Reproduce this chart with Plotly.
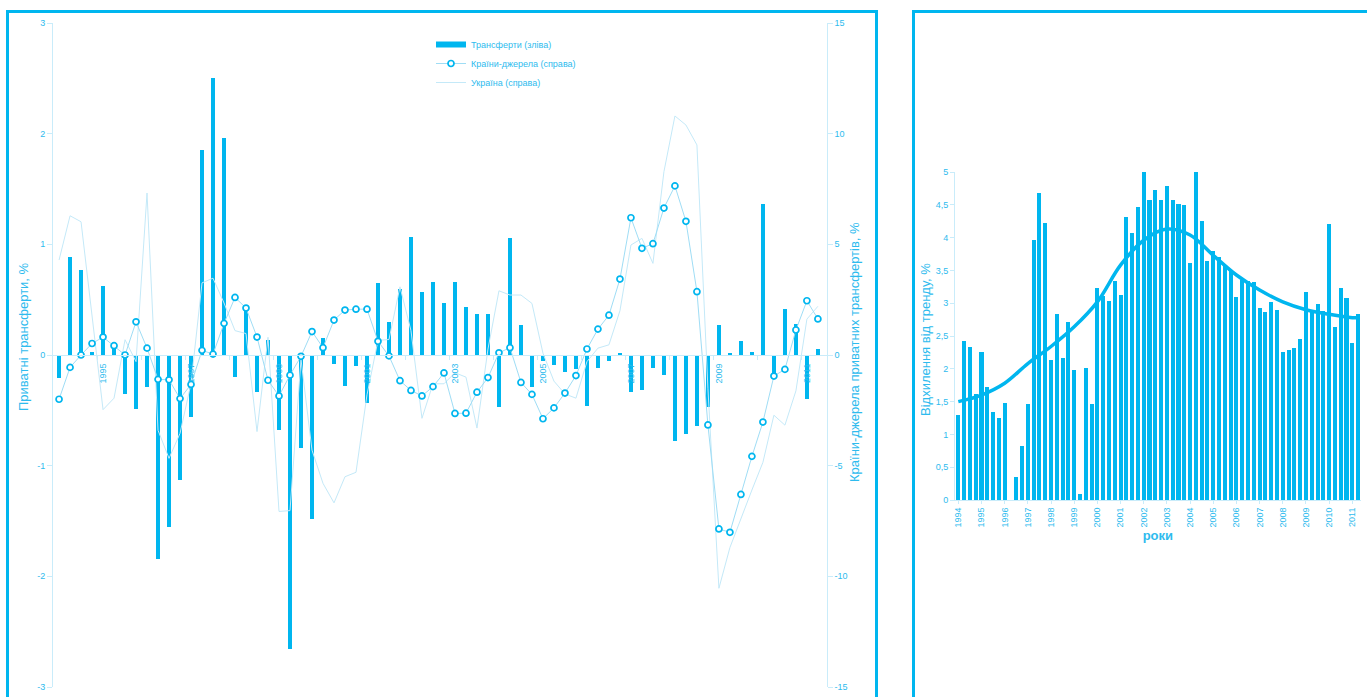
import plotly.graph_objects as go

# ---------------- data ----------------
years = list(range(1994, 2012))
quarters = [f"{y}Q{q}" for y in years for q in range(1, 5)][:70]  # 1994Q1 .. 2011Q2

# left panel
transfers = [-0.21, 0.89, 0.77, 0.03, 0.62, 0.085, -0.35, -0.49, -0.29, -1.84,
             -1.55, -1.13, -0.56, 1.85, 2.50, 1.965, -0.20, 0.43, -0.33, 0.14,
             -0.68, -2.66, -0.84, -1.48, 0.155, -0.085, -0.28, -0.10, -0.43, 0.65,
             0.30, 0.60, 1.07, 0.57, 0.66, 0.47, 0.66, 0.43, 0.37, 0.375,
             -0.47, 1.06, 0.27, -0.29, -0.05, -0.087, -0.15, -0.13, -0.46, -0.12,
             -0.05, 0.02, -0.33, -0.32, -0.114, -0.18, -0.78, -0.71, -0.64, -0.47,
             0.27, 0.02, 0.126, 0.03, 1.36, -0.21, 0.415, 0.28, -0.40, 0.054]

source_countries = [-2.0, -0.56, 0.0, 0.52, 0.81, 0.42, 0.0, 1.5, 0.31, -1.1,
                    -1.12, -1.97, -1.33, 0.21, 0.04, 1.43, 2.6, 2.12, 0.81, -1.14,
                    -1.85, -0.91, -0.06, 1.06, 0.33, 1.58, 2.03, 2.07, 2.07, 0.62,
                    -0.04, -1.16, -1.6, -1.85, -1.43, -0.81, -2.64, -2.63, -1.68, -1.02,
                    0.1, 0.33, -1.24, -1.78, -2.88, -2.39, -1.72, -0.93, 0.27, 1.17,
                    1.8, 3.43, 6.2, 4.82, 5.03, 6.64, 7.64, 6.04, 2.86, -3.16,
                    -7.86, -8.01, -6.3, -4.58, -3.03, -0.95, -0.65, 1.13, 2.45, 1.63]

ukraine = [4.29, 6.29, 6.02, 1.8, -2.47, -1.95, 0.69, -0.3, 7.32, -3.4,
           -4.67, -3.54, -1.28, 3.26, 3.47, 2.35, 1.1, 0.97, -3.46, 0.8,
           -7.07, -7.03, -0.2, -4.3, -5.8, -6.68, -5.5, -5.3, -1.8, 0.66,
           0.7, 3.08, 1.1, -2.86, -1.3, -1.3, -0.8, -1.0, -3.3, 0.27,
           2.9, 2.71, 2.71, 2.33, 0.08, -1.18, -1.76, -1.95, -0.3, 0.31,
           0.46, 2.0, 4.97, 5.27, 4.14, 8.28, 10.8, 10.39, 9.49, -1.5,
           -10.54, -8.7, -7.36, -6.1, -4.85, -2.72, -3.17, -1.62, 1.62, 2.2]

# right panel
deviation = [1.29, 2.42, 2.33, 1.61, 2.25, 1.72, 1.34, 1.245, 1.48, 0.0,
             0.345, 0.83, 1.46, 3.96, 4.68, 4.22, 2.13, 2.84, 2.16, 2.71,
             1.98, 0.09, 2.01, 1.46, 3.23, 3.11, 3.04, 3.34, 3.12, 4.31,
             4.07, 4.46, 5.02, 4.58, 4.73, 4.57, 4.79, 4.57, 4.51, 4.49,
             3.61, 5.05, 4.26, 3.65, 3.80, 3.70, 3.57, 3.51, 3.10, 3.36,
             3.34, 3.32, 2.93, 2.87, 3.02, 2.89, 2.25, 2.28, 2.31, 2.45,
             3.17, 2.90, 2.99, 2.88, 4.20, 2.64, 3.23, 3.08, 2.40, 2.84]

trend_quarters = ["1994Q1", "1995Q1", "1996Q1", "1997Q1", "1998Q1", "1999Q1",
                  "2000Q1", "2001Q1", "2002Q1", "2003Q1", "2004Q1", "2005Q1",
                  "2006Q1", "2007Q1", "2008Q1", "2009Q1", "2010Q1", "2011Q1", "2011Q2"]
trend = [1.50, 1.60, 1.78, 2.08, 2.34, 2.64, 3.02, 3.58, 3.96, 4.13,
         4.04, 3.73, 3.43, 3.20, 3.02, 2.90, 2.83, 2.78, 2.78]

left_tick_years = years[1:]  # year boundaries 1994/95 .. 2010/11
left_y_ticks = [-3, -2, -1, 0, 1, 2, 3]
right_y_ticks = [-15, -10, -5, 0, 5, 10, 15]

# ---------------- style ----------------
CYAN = "#00B6EF"
TXT = "#2EBBEE"
AXIS = "#C9ECFA"
THIN = "#C4E9F8"
MLINE = "#9FDDF5"
FONT = "Liberation Sans, Arial, sans-serif"

W, H = 1367, 697

idx = list(range(len(quarters)))
pos = {q: i for i, q in enumerate(quarters)}
trend_x = [pos[q] for q in trend_quarters]

fig = go.Figure()

# left panel traces
fig.add_trace(go.Bar(x=idx, y=transfers, width=0.43, marker=dict(color=CYAN, line=dict(width=0)),
                     xaxis="x", yaxis="y", showlegend=False, name="Трансферти (зліва)"))
fig.add_trace(go.Scatter(x=idx, y=ukraine, mode="lines", line=dict(color=THIN, width=1),
                         xaxis="x", yaxis="y2", name="Україна (справа)", legendrank=3))
fig.add_trace(go.Scatter(x=idx, y=source_countries, mode="lines+markers",
                         line=dict(color=MLINE, width=1),
                         marker=dict(symbol="circle", size=6, color="white",
                                     line=dict(color=CYAN, width=1.7)),
                         xaxis="x", yaxis="y2", name="Країни-джерела (справа)", legendrank=2))
# legend entry for bars (thick bar symbol)
fig.add_trace(go.Scatter(x=[None], y=[None], mode="lines", line=dict(color=CYAN, width=6),
                         xaxis="x", yaxis="y", name="Трансферти (зліва)", legendrank=1))

# right panel traces
fig.add_trace(go.Bar(x=idx, y=deviation, width=0.7, marker=dict(color=CYAN, line=dict(width=0)),
                     xaxis="x2", yaxis="y3", showlegend=False))
fig.add_trace(go.Scatter(x=trend_x, y=trend, mode="lines",
                         line=dict(color=CYAN, width=3.5, shape="spline", smoothing=1.0),
                         xaxis="x2", yaxis="y3", showlegend=False))

# ---------------- axes ----------------
lx0, lx1 = 53 / W, 826.7 / W
ly0, ly1 = (H - 687) / H, (H - 23) / H
tickfont = dict(family=FONT, size=9, color=TXT)
titlefont = dict(family=FONT, size=13, color=TXT)

left_tickvals = [i * 4 + 3.5 for i in range(len(left_tick_years))]
left_ticktext = [str(y) if (y - 1995) % 2 == 0 else "" for y in left_tick_years]

fig.update_layout(
    xaxis=dict(domain=[lx0, lx1], range=[-0.55, 69.8], anchor="free", position=(ly0 + ly1) / 2,
               showline=True, linecolor=AXIS, linewidth=1, ticks="outside", ticklen=4,
               tickcolor=AXIS, tickvals=left_tickvals, ticktext=left_ticktext, tickangle=-90,
               ticklabelshift=6, tickfont=tickfont, showgrid=False, zeroline=False),
    yaxis=dict(domain=[ly0, ly1], range=[-3, 3], tickvals=left_y_ticks,
               ticktext=[str(v) for v in left_y_ticks],
               anchor="x", showline=True, linecolor=AXIS, linewidth=1, ticks="outside",
               ticklen=5, tickcolor=AXIS, tickfont=tickfont, showgrid=False, zeroline=False),
    yaxis2=dict(range=[-15, 15], tickvals=right_y_ticks, ticktext=[str(v) for v in right_y_ticks],
                overlaying="y", side="right", anchor="x", showline=True, linecolor=AXIS,
                linewidth=1, ticks="outside", ticklen=5, tickcolor=AXIS, tickfont=tickfont,
                showgrid=False, zeroline=False),
    xaxis2=dict(domain=[955 / W, 1360.7 / W], range=[-0.57, 69.45], anchor="y3",
                showline=True, linecolor=AXIS, linewidth=1, ticks="outside", ticklen=3,
                tickcolor=AXIS, tickvals=[pos[f"{y}Q1"] for y in years],
                ticktext=[str(y) for y in years], tickangle=-90, tickfont=tickfont,
                showgrid=False, zeroline=False,
                title=dict(text="<b>роки</b>", font=titlefont, standoff=4)),
    yaxis3=dict(domain=[(H - 500) / H, (H - 172) / H], range=[0, 5], dtick=0.5, anchor="x2",
                showline=True, linecolor=AXIS, linewidth=1, ticks="outside", ticklen=4,
                tickcolor=AXIS, tickfont=tickfont, showgrid=False, zeroline=False),
)

annotations = [
    dict(text="Приватні трансферти, %", x=23 / W, y=(H - 337) / H, xref="paper", yref="paper",
         textangle=-90, showarrow=False, font=titlefont, xanchor="center", yanchor="middle"),
    dict(text="Країни-джерела приватних трансфертів, %", x=854 / W, y=(H - 352) / H,
         xref="paper", yref="paper", textangle=-90, showarrow=False, font=titlefont,
         xanchor="center", yanchor="middle"),
    dict(text="Відхилення від тренду, %", x=925 / W, y=(H - 340) / H, xref="paper", yref="paper",
         textangle=-90, showarrow=False, font=titlefont, xanchor="center", yanchor="middle"),
]

fig.update_layout(
    width=W, height=H, margin=dict(l=0, r=0, t=0, b=0, pad=0, autoexpand=False),
    paper_bgcolor="white", plot_bgcolor="rgba(0,0,0,0)",
    font=dict(family=FONT, size=9, color=TXT),
    separators=", ",
    bargap=0,
    annotations=annotations,
    legend=dict(x=431 / W, y=(H - 30) / H, xanchor="left", yanchor="top",
                bgcolor="rgba(0,0,0,0)", font=dict(family=FONT, size=9, color=TXT),
                itemwidth=30, tracegroupgap=0),
    shapes=[
        dict(type="rect", xref="paper", yref="paper", x0=7.5 / W, x1=876.5 / W,
             y0=-0.05, y1=(H - 11.5) / H, line=dict(color=CYAN, width=3)),
        dict(type="rect", xref="paper", yref="paper", x0=913.5 / W, x1=1.05,
             y0=-0.05, y1=(H - 11.5) / H, line=dict(color=CYAN, width=3)),
    ],
)

fig.write_html("out.html")
